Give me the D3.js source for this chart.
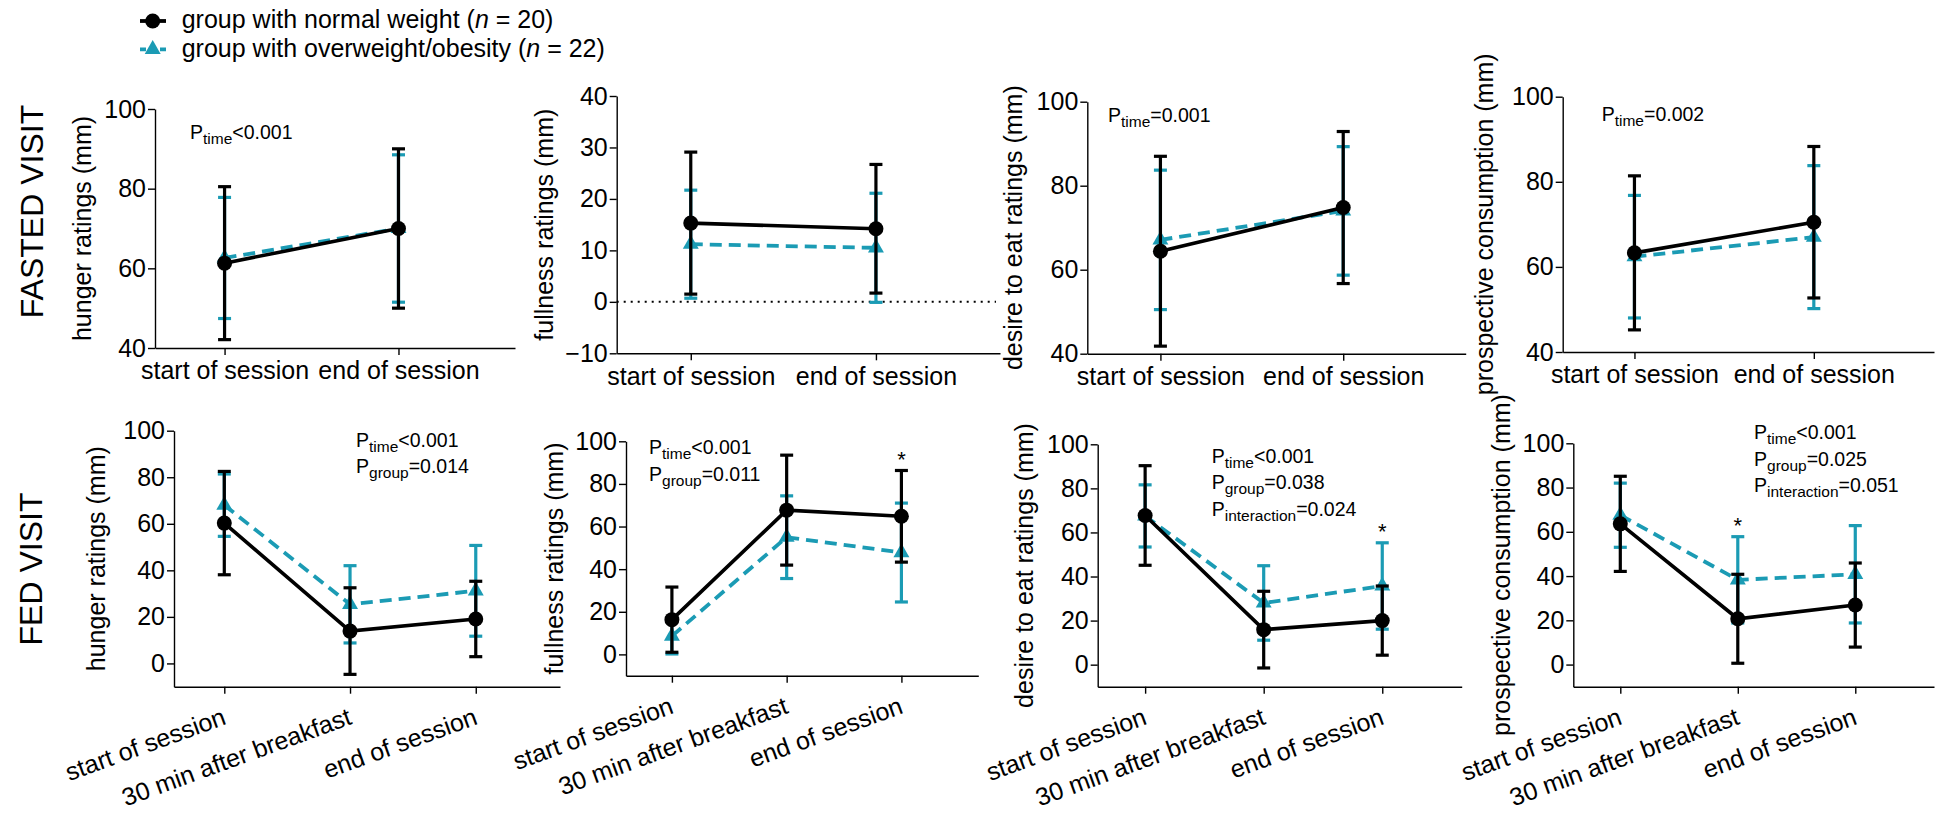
<!DOCTYPE html>
<html>
<head>
<meta charset="utf-8">
<script src="https://cdn.jsdelivr.net/npm/d3@7"></script>
<style>
  body { margin: 0; background: #fff; }
  svg { display: block; font-family: "Liberation Sans", Arial, sans-serif; }
</style>
</head>
<body>
<svg id="chart" width="1941" height="813"></svg>
<script>
// Time points
var timesFasted = ["start of session", "end of session"];
var timesFed = ["start of session", "30 min after breakfast", "end of session"];

// Mean and SD per group (NW = normal weight, OW = overweight/obesity)
// Fasted visit
var hungerFastedNW = [61.3, 70.0],   hungerFastedNWsd = [19.2, 20.0];
var hungerFastedOW = [62.6, 70.0],   hungerFastedOWsd = [15.2, 18.5];
var fullFastedNW = [15.3, 14.2],     fullFastedNWsd = [13.8, 12.5];
var fullFastedOW = [11.2, 10.5],     fullFastedOWsd = [10.5, 10.6];
var desireFastedNW = [64.4, 74.8],   desireFastedNWsd = [22.6, 18.1];
var desireFastedOW = [67.1, 74.0],   desireFastedOWsd = [16.6, 15.3];
var prospFastedNW = [63.3, 70.5],    prospFastedNWsd = [18.1, 17.8];
var prospFastedOW = [62.4, 67.0],    prospFastedOWsd = [14.4, 16.8];
// Fed visit
var hungerFedNW = [60.3, 13.9, 19.1],  hungerFedNWsd = [22.2, 18.6, 16.2];
var hungerFedOW = [68.0, 25.4, 31.2],  hungerFedOWsd = [13.4, 16.6, 19.5];
var fullFedNW = [16.3, 67.7, 64.8],    fullFedNWsd = [15.3, 25.8, 21.5];
var fullFedOW = [8.6, 55.0, 47.8],     fullFedOWsd = [8.4, 19.4, 23.2];
var desireFedNW = [67.7, 15.9, 20.0],  desireFedNWsd = [22.6, 17.4, 15.7];
var desireFedOW = [67.5, 28.0, 35.7],  desireFedOWsd = [14.1, 16.9, 19.6];
var prospFedNW = [63.6, 20.7, 26.9],   prospFedNWsd = [21.5, 20.1, 19.0];
var prospFedOW = [67.5, 38.3, 40.8],   prospFedOWsd = [14.5, 19.5, 22.0];

// Y tick values
var ticksHigh = [40, 60, 80, 100];
var ticksFull = [-10, 0, 10, 20, 30, 40];
var ticksFed = [0, 20, 40, 60, 80, 100];

// P-value annotations [subscript, value]
var pHungerFasted = [["time", "<0.001"]];
var pFullFasted = [];
var pDesireFasted = [["time", "=0.001"]];
var pProspFasted = [["time", "=0.002"]];
var pHungerFed = [["time", "<0.001"], ["group", "=0.014"]];
var pFullFed = [["time", "<0.001"], ["group", "=0.011"]];
var pDesireFed = [["time", "<0.001"], ["group", "=0.038"], ["interaction", "=0.024"]];
var pProspFed = [["time", "<0.001"], ["group", "=0.025"], ["interaction", "=0.051"]];

// Time points marked with * (index)
var starsFullFed = [2];
var starsDesireFed = [2];
var starsProspFed = [1];

var teal = "#1b9bb4";
var svg = d3.select("#chart");

// Panel list, built from the arrays above plus layout
var panels = [
    {times: timesFasted, nw: hungerFastedNW, nwSd: hungerFastedNWsd, ow: hungerFastedOW, owSd: hungerFastedOWsd,
     domain: [40, 100], ticks: ticksHigh, label: "hunger ratings (mm)", p: pHungerFasted, stars: [],
     x0: 155, x1: 515, top: 109, bottom: 348, labelX: 90.7, pX: 190, pY: 139.3},
    {times: timesFasted, nw: fullFastedNW, nwSd: fullFastedNWsd, ow: fullFastedOW, owSd: fullFastedOWsd,
     domain: [-10, 40], ticks: ticksFull, label: "fullness ratings (mm)", p: pFullFasted, stars: [], zeroLine: true,
     x0: 616.7, x1: 1000, top: 96, bottom: 353.3, labelX: 553.3, pX: 0, pY: 0},
    {times: timesFasted, nw: desireFastedNW, nwSd: desireFastedNWsd, ow: desireFastedOW, owSd: desireFastedOWsd,
     domain: [40, 100], ticks: ticksHigh, label: "desire to eat ratings (mm)", p: pDesireFasted, stars: [],
     x0: 1087.3, x1: 1465.7, top: 101.7, bottom: 353.7, labelX: 1021.7, pX: 1108, pY: 121.7},
    {times: timesFasted, nw: prospFastedNW, nwSd: prospFastedNWsd, ow: prospFastedOW, owSd: prospFastedOWsd,
     domain: [40, 100], ticks: ticksHigh, label: "prospective consumption (mm)", p: pProspFasted, stars: [],
     x0: 1562.7, x1: 1934, top: 96.7, bottom: 352, labelX: 1493.3, pX: 1601.7, pY: 121},
    {times: timesFed, nw: hungerFedNW, nwSd: hungerFedNWsd, ow: hungerFedOW, owSd: hungerFedOWsd,
     domain: [-10, 100], ticks: ticksFed, label: "hunger ratings (mm)", p: pHungerFed, stars: [], rotate: true,
     x0: 174, x1: 560, top: 430.7, bottom: 686.7, labelX: 105, pX: 356, pY: 446.7},
    {times: timesFed, nw: fullFedNW, nwSd: fullFedNWsd, ow: fullFedOW, owSd: fullFedOWsd,
     domain: [-10, 100], ticks: ticksFed, label: "fullness ratings (mm)", p: pFullFed, stars: starsFullFed, rotate: true,
     x0: 626, x1: 978.3, top: 441.3, bottom: 675.7, labelX: 563.3, pX: 649, pY: 454.3},
    {times: timesFed, nw: desireFedNW, nwSd: desireFedNWsd, ow: desireFedOW, owSd: desireFedOWsd,
     domain: [-10, 100], ticks: ticksFed, label: "desire to eat ratings (mm)", p: pDesireFed, stars: starsDesireFed, rotate: true,
     x0: 1097.7, x1: 1461.7, top: 444.3, bottom: 686.7, labelX: 1033.3, pX: 1211.7, pY: 462.7},
    {times: timesFed, nw: prospFedNW, nwSd: prospFedNWsd, ow: prospFedOW, owSd: prospFedOWsd,
     domain: [-10, 100], ticks: ticksFed, label: "prospective consumption (mm)", p: pProspFed, stars: starsProspFed, rotate: true,
     x0: 1573.3, x1: 1934, top: 443.3, bottom: 686.7, labelX: 1510, pX: 1754, pY: 439.3}
];

function drawSeries(g, x, y, means, sds, color, dashed, marker) {
    var pts = means.map(function(m, i) { return {i: i, m: m, s: sds[i]}; });
    var cap = 6.5;
    var eb = g.append("g").attr("stroke", color).attr("stroke-width", 3.2).attr("fill", "none");
    eb.selectAll(".bar").data(pts).join("line")
        .attr("x1", function(d) { return x(d.i); })
        .attr("x2", function(d) { return x(d.i); })
        .attr("y1", function(d) { return y(d.m - d.s); })
        .attr("y2", function(d) { return y(d.m + d.s); });
    eb.selectAll(".capTop").data(pts).join("line")
        .attr("x1", function(d) { return x(d.i) - cap; })
        .attr("x2", function(d) { return x(d.i) + cap; })
        .attr("y1", function(d) { return y(d.m + d.s); })
        .attr("y2", function(d) { return y(d.m + d.s); });
    eb.selectAll(".capBot").data(pts).join("line")
        .attr("x1", function(d) { return x(d.i) - cap; })
        .attr("x2", function(d) { return x(d.i) + cap; })
        .attr("y1", function(d) { return y(d.m - d.s); })
        .attr("y2", function(d) { return y(d.m - d.s); });

    var line = d3.line().x(function(d) { return x(d.i); }).y(function(d) { return y(d.m); });
    g.append("path").datum(pts)
        .attr("d", line)
        .attr("fill", "none")
        .attr("stroke", color)
        .attr("stroke-width", dashed ? 3.8 : 3.6)
        .attr("stroke-dasharray", dashed ? "12,7" : null);

    if (marker === "circle") {
        g.selectAll(".dot").data(pts).join("circle")
            .attr("cx", function(d) { return x(d.i); })
            .attr("cy", function(d) { return y(d.m); })
            .attr("r", 7.5)
            .attr("fill", color);
    } else {
        g.selectAll(".tri").data(pts).join("path")
            .attr("d", d3.symbol(d3.symbolTriangle, 110))
            .attr("transform", function(d) { return "translate(" + x(d.i) + "," + y(d.m) + ")"; })
            .attr("fill", color);
    }
}

panels.forEach(function(p) {
    var n = p.times.length;
    var x = d3.scaleLinear().domain([-0.4, n - 1 + 0.67]).range([p.x0, p.x1]);
    var y = d3.scaleLinear().domain(p.domain).range([p.bottom, p.top]);
    var g = svg.append("g");

    // y axis
    var ya = g.append("g").attr("transform", "translate(" + p.x0 + ",0)")
        .call(d3.axisLeft(y).tickValues(p.ticks).tickSize(7).tickSizeOuter(0).tickPadding(2));
    // x axis
    var xa = g.append("g").attr("transform", "translate(0," + p.bottom + ")")
        .call(d3.axisBottom(x).tickValues(d3.range(n)).tickSize(7).tickSizeOuter(0).tickPadding(6.5)
            .tickFormat(function(i) { return p.times[i]; }));
    [ya, xa].forEach(function(a) {
        a.selectAll("path, line").attr("stroke", "#000").attr("stroke-width", 1.4);
        a.selectAll("text").attr("fill", "#000").attr("font-size", 25);
        a.attr("font-family", null);
    });
    if (p.rotate) {
        xa.selectAll(".tick text")
            .attr("text-anchor", "end")
            .attr("x", 0).attr("y", 0).attr("dy", 0)
            .attr("transform", "translate(2.5,37) rotate(-20)");
    }

    // y axis title
    g.append("text")
        .attr("transform", "translate(" + p.labelX + "," + ((p.top + p.bottom) / 2) + ") rotate(-90)")
        .attr("text-anchor", "middle")
        .attr("font-size", 25)
        .text(p.label);

    if (p.zeroLine) {
        g.append("line")
            .attr("x1", p.x0).attr("x2", p.x1 - 4)
            .attr("y1", y(0)).attr("y2", y(0))
            .attr("stroke", "#000").attr("stroke-width", 2)
            .attr("stroke-dasharray", "2,5");
    }

    drawSeries(g.append("g"), x, y, p.ow, p.owSd, teal, true, "triangle");
    drawSeries(g.append("g"), x, y, p.nw, p.nwSd, "#000", false, "circle");

    // P-value annotations
    p.p.forEach(function(row, k) {
        var t = g.append("text")
            .attr("x", p.pX)
            .attr("y", p.pY + k * 26.5)
            .attr("font-size", 19.5);
        t.append("tspan").text("P");
        t.append("tspan").attr("font-size", 15.5).attr("dy", 5).text(row[0]);
        t.append("tspan").attr("dy", -5).text(row[1]);
    });

    // significance stars
    p.stars.forEach(function(i) {
        var topVal = Math.max(p.nw[i] + p.nwSd[i], p.ow[i] + p.owSd[i]);
        g.append("text")
            .attr("x", x(i))
            .attr("y", y(topVal) - 16 + 12.5)
            .attr("text-anchor", "middle")
            .attr("font-size", 22)
            .text("*");
    });
});

// Row titles
svg.append("text")
    .attr("transform", "translate(43.3,211.5) rotate(-90)")
    .attr("text-anchor", "middle").attr("font-size", 32)
    .text("FASTED VISIT");
svg.append("text")
    .attr("transform", "translate(41.7,569) rotate(-90)")
    .attr("text-anchor", "middle").attr("font-size", 32)
    .text("FED VISIT");

// Legend
var legendItems = [
    {label: "group with normal weight (", n: "20", color: "#000", dashed: false, marker: "circle"},
    {label: "group with overweight/obesity (", n: "22", color: teal, dashed: true, marker: "triangle"}
];
var leg = svg.append("g");
legendItems.forEach(function(d, k) {
    var cy = 21 + k * 28.3;
    leg.append("line")
        .attr("x1", 140).attr("x2", 166).attr("y1", cy).attr("y2", cy)
        .attr("stroke", d.color).attr("stroke-width", 3.8)
        .attr("stroke-dasharray", d.dashed ? "6,14" : null);
    if (d.marker === "circle") {
        leg.append("circle").attr("cx", 152.7).attr("cy", cy).attr("r", 7.5).attr("fill", d.color);
    } else {
        leg.append("path").attr("d", d3.symbol(d3.symbolTriangle, 110))
            .attr("transform", "translate(152.7," + cy + ")").attr("fill", d.color);
    }
    var t = leg.append("text").attr("x", 181.7).attr("y", cy + 7.4).attr("font-size", 25);
    t.append("tspan").text(d.label);
    t.append("tspan").attr("font-style", "italic").text("n");
    t.append("tspan").text(" = " + d.n + ")");
});
</script>
</body>
</html>
